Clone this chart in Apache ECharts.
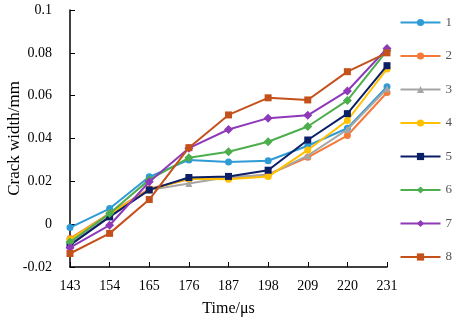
<!DOCTYPE html>
<html>
<head>
<meta charset="utf-8">
<script src="https://cdn.jsdelivr.net/npm/echarts@6/dist/echarts.min.js"></script>
<style>
  html, body { margin: 0; padding: 0; background: #fff; }
  #chart { width: 457px; height: 323px; }
</style>
</head>
<body>
<div id="chart"></div>
<script>
// time points (μs)
const times = ['143', '154', '165', '176', '187', '198', '209', '220', '231']

// crack width (mm) per measuring point
const s1 = [-0.0016, 0.0073, 0.0221, 0.0300, 0.0290, 0.0296, 0.0366, 0.0448, 0.0642]
const s2 = [-0.0067, 0.0050, 0.0165, 0.0210, 0.0215, 0.0232, 0.0312, 0.0414, 0.0615]
const s3 = [-0.0090, 0.0040, 0.0160, 0.0190, 0.0220, 0.0230, 0.0320, 0.0442, 0.0632]
const s4 = [-0.0072, 0.0048, 0.0160, 0.0212, 0.0210, 0.0222, 0.0346, 0.0484, 0.0725]
const s5 = [-0.0098, 0.0034, 0.0160, 0.0218, 0.0223, 0.0252, 0.0393, 0.0516, 0.0740]
const s6 = [-0.0083, 0.0050, 0.0208, 0.0310, 0.0338, 0.0385, 0.0456, 0.0578, 0.0810]
const s7 = [-0.0110, -0.0005, 0.0198, 0.0355, 0.0442, 0.0495, 0.0508, 0.0622, 0.0820]
const s8 = [-0.0137, -0.0043, 0.0115, 0.0357, 0.0510, 0.0590, 0.0580, 0.0712, 0.0800]

const names = ['1', '2', '3', '4', '5', '6', '7', '8']
const allData = [s1, s2, s3, s4, s5, s6, s7, s8]
const colors = ['#2e9bd6', '#f5793a', '#a5a5a5', '#ffc000', '#0b1f66', '#4cae4c', '#8e3ab8', '#c4511a']
const symbols = ['circle', 'circle', 'triangle', 'circle', 'rect', 'diamond', 'diamond', 'rect']

const font = 'Liberation Serif'

const chart = echarts.init(document.getElementById('chart'))

const series = names.map((n, i) => ({
  name: n,
  type: 'line',
  data: allData[i],
  symbol: symbols[i],
  symbolSize: symbols[i] === 'diamond' ? 9 : 7,
  lineStyle: { color: colors[i], width: 2 },
  itemStyle: { color: colors[i] },
  z: 2 + i
}))

chart.setOption({
  animation: false,
  textStyle: { fontFamily: font },
  grid: { left: 70, right: 70, top: 10, bottom: 56, outerBoundsMode: 'none' },
  legend: {
    orient: 'vertical',
    right: 0,
    top: 11,
    itemWidth: 40,
    itemHeight: 9,
    itemGap: 20.5,
    data: names,
    textStyle: { fontFamily: font, fontSize: 13, color: '#555' }
  },
  xAxis: {
    type: 'category',
    data: times,
    boundaryGap: false,
    name: 'Time/\u03bcs',
    nameLocation: 'middle',
    nameGap: 34,
    nameMoveOverlap: false,
    nameTextStyle: { fontFamily: font, fontSize: 16, color: '#000' },
    axisLine: { onZero: false, lineStyle: { color: '#000', width: 1.5 } },
    axisTick: { inside: true, length: 5, lineStyle: { color: '#000' } },
    axisLabel: { fontFamily: font, fontSize: 14, color: '#000', margin: 12 },
    splitLine: { show: false }
  },
  yAxis: {
    type: 'value',
    min: -0.02,
    max: 0.1,
    interval: 0.02,
    name: 'Crack width/mm',
    nameLocation: 'middle',
    nameGap: 47,
    nameMoveOverlap: false,
    nameTextStyle: { fontFamily: font, fontSize: 17, color: '#000' },
    axisLine: { show: true, lineStyle: { color: '#000', width: 1.5 } },
    axisTick: { show: true, inside: true, length: 5, lineStyle: { color: '#000' } },
    axisLabel: { fontFamily: font, fontSize: 14, color: '#000', margin: 18 },
    splitLine: { show: false }
  },
  series: series
})
</script>
</body>
</html>
